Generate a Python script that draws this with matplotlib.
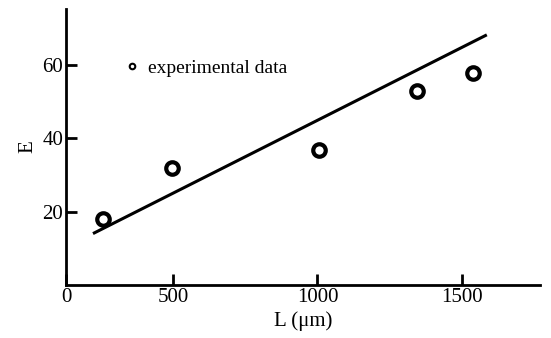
import matplotlib
matplotlib.use("Agg")
from matplotlib import pyplot as plt
from matplotlib.lines import Line2D

# data
L_data = [258, 497, 1005, 1344, 1538]
E_data = [18.1, 32.0, 36.7, 52.9, 57.8]
L_fit = [223, 1586]
E_fit = [14.0, 68.2]

xticks = [130, 500, 1000, 1500]
xtick_labels = ['0', '500', '1000', '1500']
yticks = [20, 40, 60]

plt.rcParams['font.family'] = ['Liberation Serif', 'DejaVu Serif']

fig = plt.figure(figsize=(5.51, 3.38), dpi=100)
ax = fig.add_axes([0.12, 0.157, 0.86, 0.817])

ax.plot(L_fit, E_fit, color='black', lw=2.2, solid_capstyle='butt')
ax.plot(L_data, E_data, 'o', mfc='white', mec='black', ms=9, mew=3)

ax.set_xlim(130, 1770)
ax.set_ylim(0, 75.3)
ax.set_xticks(xticks)
ax.set_xticklabels(xtick_labels)
ax.set_yticks(yticks)

for s in ['top', 'right']:
    ax.spines[s].set_visible(False)
for s in ['left', 'bottom']:
    ax.spines[s].set_linewidth(2)

ax.tick_params(direction='in', length=8, width=2, labelsize=15, pad=2)
ax.set_xlabel('L (μm)', fontsize=15, labelpad=3)
ax.set_ylabel('E', fontsize=15, labelpad=4)

handle = Line2D([], [], ls='none', marker='o', mfc='white', mec='black',
                ms=4, mew=1.5)
ax.legend([handle], ['experimental data'], loc='upper left',
          bbox_to_anchor=(0.09, 0.88), frameon=False,
          handlelength=0.6, handletextpad=0.5, fontsize=14)

fig.savefig('out.png', dpi=100)
